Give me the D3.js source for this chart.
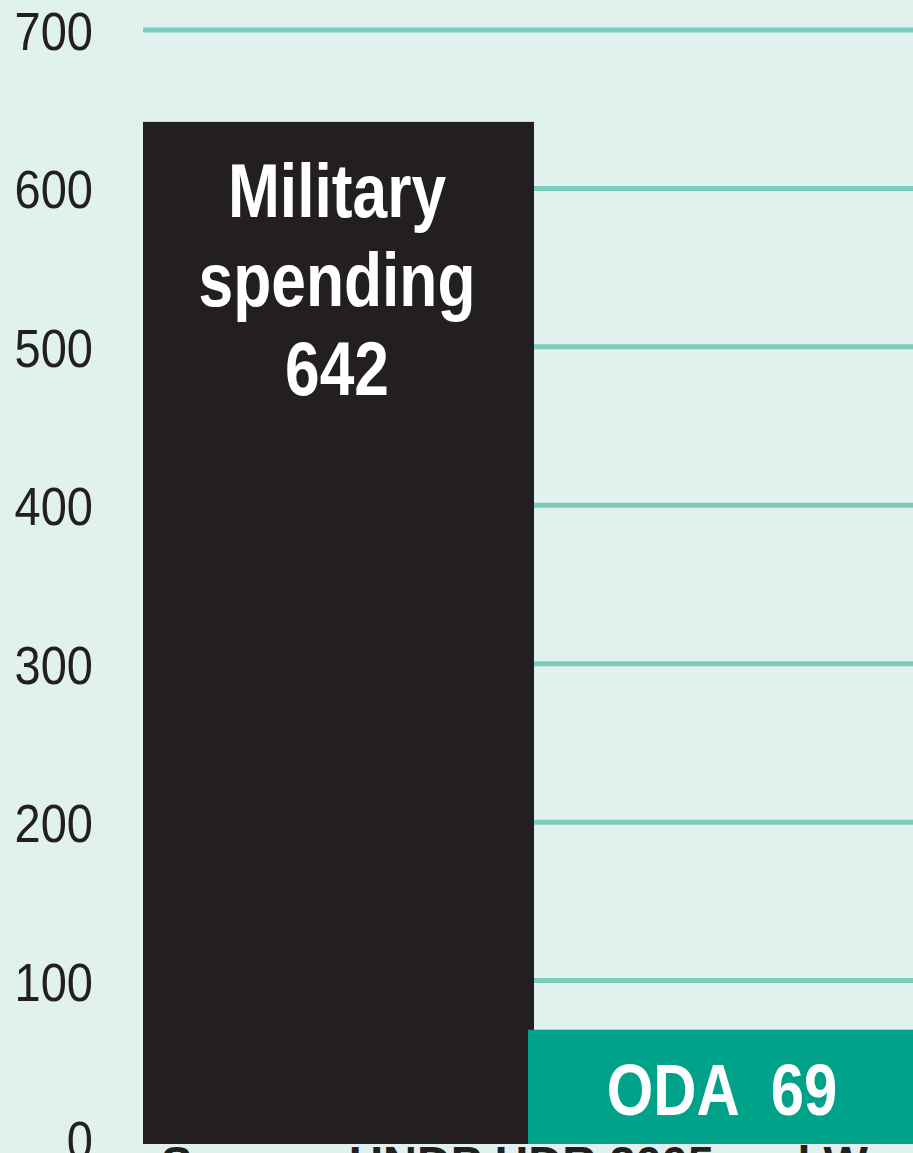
<!DOCTYPE html>
<html lang="en">
<head>
<meta charset="UTF-8">
<title>Military spending vs ODA</title>
<script src="https://d3js.org/d3.v7.min.js"></script>
<style>
  html, body { margin: 0; padding: 0; background: #e1f1ed; overflow: hidden; }
  svg { display: block; }
</style>
</head>
<body>
<div id="chart"></div>
<script>
	// values in US$ billions
	var categories = ["Military spending", "ODA"];
	var labelLines = [["Military", "spending", "642"], ["ODA  69"]];
	var values = [642, 69];
	var tickValues = [0, 100, 200, 300, 400, 500, 600, 700];
	var sourceText = "Source: UNDP HDR 2005 and World Bank";

	var width = 913, height = 1153;
	var colors = ["#231f20", "#00a389"];
	var narrow = 0.82; // no narrow font installed, so squeeze horizontally

	var svg = d3.select("#chart")
	  .append("svg")
		.attr("width", width)
		.attr("height", height);

	svg.append("rect")
		.attr("width", width)
		.attr("height", height)
		.attr("fill", "#e1f1ed");

	var x = d3.scaleBand()
	  .domain(categories)
	  .range([143, 919])
	  .padding(0);

	var y = d3.scaleLinear()
	  .domain([0, 700])
	  .range([1139, 30]);

	// source line sits under the bars, only its top shows
	svg.append("text")
		.attr("x", 161)
		.attr("y", 1179)
		.attr("fill", "#231f20")
		.style("font", "bold 47px 'Liberation Sans', Arial, sans-serif")
		.text(sourceText);

	// grid lines
	svg.selectAll("line.grid")
	  .data(tickValues.filter(function(d) { return d > 0; }))
	  .enter().append("line")
		.attr("class", "grid")
		.attr("x1", 143)
		.attr("x2", width)
		.attr("y1", function(d) { return y(d); })
		.attr("y2", function(d) { return y(d); })
		.attr("stroke", "#7accbd")
		.attr("stroke-width", 5);

	// y axis labels
	var yAxis = svg.append("g")
		.attr("transform", "translate(93,0)")
		.call(d3.axisLeft(y).tickValues(tickValues).tickSize(0).tickPadding(0));
	yAxis.select(".domain").remove();
	yAxis.selectAll("text")
		.attr("x", 0)
		.attr("fill", "#231f20")
		.attr("dy", "0.36em")
		.attr("transform", "scale(0.87,1)")
		.style("font", "54px 'Liberation Sans', Arial, sans-serif");

	// bars (they overlap a little where they meet)
	var overlap = 3;
	svg.selectAll("rect.bar")
	  .data(values)
	  .enter().append("rect")
		.attr("class", "bar")
		.attr("x", function(d, i) { return x(categories[i]) - (i > 0 ? overlap : 0); })
		.attr("y", function(d) { return y(d); })
		.attr("width", x.bandwidth() + overlap)
		.attr("height", function(d) { return y(0) - y(d) + 5; })
		.attr("fill", function(d, i) { return colors[i]; });

	// labels inside bars
	var lineGap = 89;
	var firstBaseline = [217, 1115];
	var labelSize = [76, 73];
	categories.forEach(function(c, i) {
	  var cx = x(c) + x.bandwidth() / 2 - (i > 0 ? 3 : 0);
	  var t = svg.append("g")
		.attr("transform", "translate(" + cx + ",0) scale(" + narrow + ",1)")
		.append("text")
		.attr("text-anchor", "middle")
		.attr("fill", "#ffffff")
		.style("white-space", "pre")
		.style("font", "bold " + labelSize[i] + "px 'Liberation Sans', Arial, sans-serif");
	  labelLines[i].forEach(function(line, j) {
		t.append("tspan")
		  .attr("x", 0)
		  .attr("y", firstBaseline[i] + j * lineGap)
		  .text(line);
	  });
	});
</script>
</body>
</html>
